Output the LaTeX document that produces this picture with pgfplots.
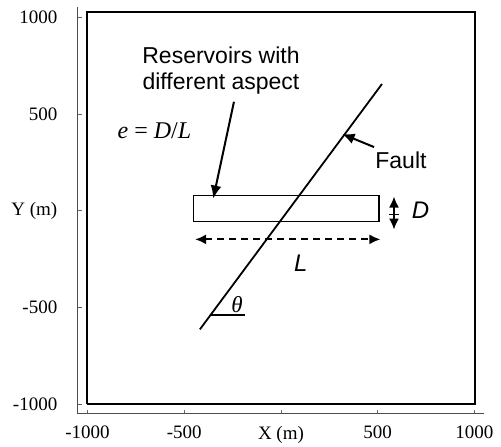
\documentclass[border=0pt]{standalone}
\usepackage{pgfplots}
\pgfplotsset{compat=1.18}
\usepackage{fontspec}
\setmainfont{Liberation Serif}
\newfontfamily\arial{Liberation Sans}
\usetikzlibrary{arrows.meta}

\begin{document}
\begin{tikzpicture}
\begin{axis}[
  scale only axis,
  width=406.35pt, height=406.35pt,
  xmin=-1050, xmax=1050, ymin=-1050, ymax=1050,
  axis x line*=bottom, axis y line*=left,
  axis line style={-, line width=0.7pt, black!70},
  xtick={-1000,-500,0,500,1000},
  ytick={-1000,-500,0,500,1000},
  xticklabels={-1000,-500,X (m),500,1000},
  yticklabels={-1000,-500,Y (m),500,1000},
  tick align=inside,
  major tick length=4pt,
  tick style={black!60, line width=0.5pt},
  ticklabel style={font=\fontsize{19}{21}\selectfont},
  xticklabel style={yshift=-9pt},
  yticklabel style={xshift=-17pt},
  clip=false,
]
% bounding region
\path (axis cs:-1452,-1217) rectangle (axis cs:1137,1088);

% domain box
\addplot[black, line width=2pt, line join=miter] coordinates {(-1000,-1000) (1005,-1000) (1005,1028) (-1000,1028) (-1000,-1000)};

% reservoir
\addplot[black, line width=1.3pt, line join=miter] coordinates {(-453,-56) (507,-56) (507,76) (-453,76) (-453,-56)};

% fault
\addplot[black, line width=1.8pt] coordinates {(-419,-614) (522,654)};

% theta reference line
\addplot[black, line width=1.3pt] coordinates {(-363,-540) (-186,-540)};

% arrow to reservoir
\addplot[black, line width=2pt, -{Latex[length=13pt,width=11pt]}] coordinates {(-243,562) (-350,62)};

% arrow to fault
\addplot[black, line width=2pt, -{Latex[length=12pt,width=11pt]}] coordinates {(481,328) (318,395)};

% L arrow (dashed)
\addplot[black, line width=2pt, dash pattern=on 7pt off 5pt, {Latex[length=11pt,width=10pt]}-{Latex[length=11pt,width=10pt]}] coordinates {(-444,-149) (514,-149)};

% D arrow
\addplot[black, line width=1.6pt, {Latex[length=11pt,width=10pt]}-{Latex[length=11pt,width=10pt]}] coordinates {(584,72) (584,-98)};
\addplot[black, line width=1.3pt] coordinates {(560,-22) (608,-22)};

% texts
\node[font=\arial\fontsize{23}{26}\selectfont, align=center] at (axis cs:-310,725) {Reservoirs with\\different aspect};
\node[font=\arial\fontsize{23}{26}\selectfont] at (axis cs:620,261) {Fault};
\node[font=\arial\itshape\fontsize{24}{26}\selectfont] at (axis cs:721,0) {D};
\node[font=\arial\itshape\fontsize{24}{26}\selectfont] at (axis cs:103,-271) {L};
\node[font=\itshape\fontsize{23}{24}\selectfont] at (axis cs:-227,-488) {θ};
\node[font=\fontsize{24}{26}\selectfont] at (axis cs:-654,412) {\textit{e} = \textit{D}/\textit{L}};
\end{axis}
\end{tikzpicture}
\end{document}
